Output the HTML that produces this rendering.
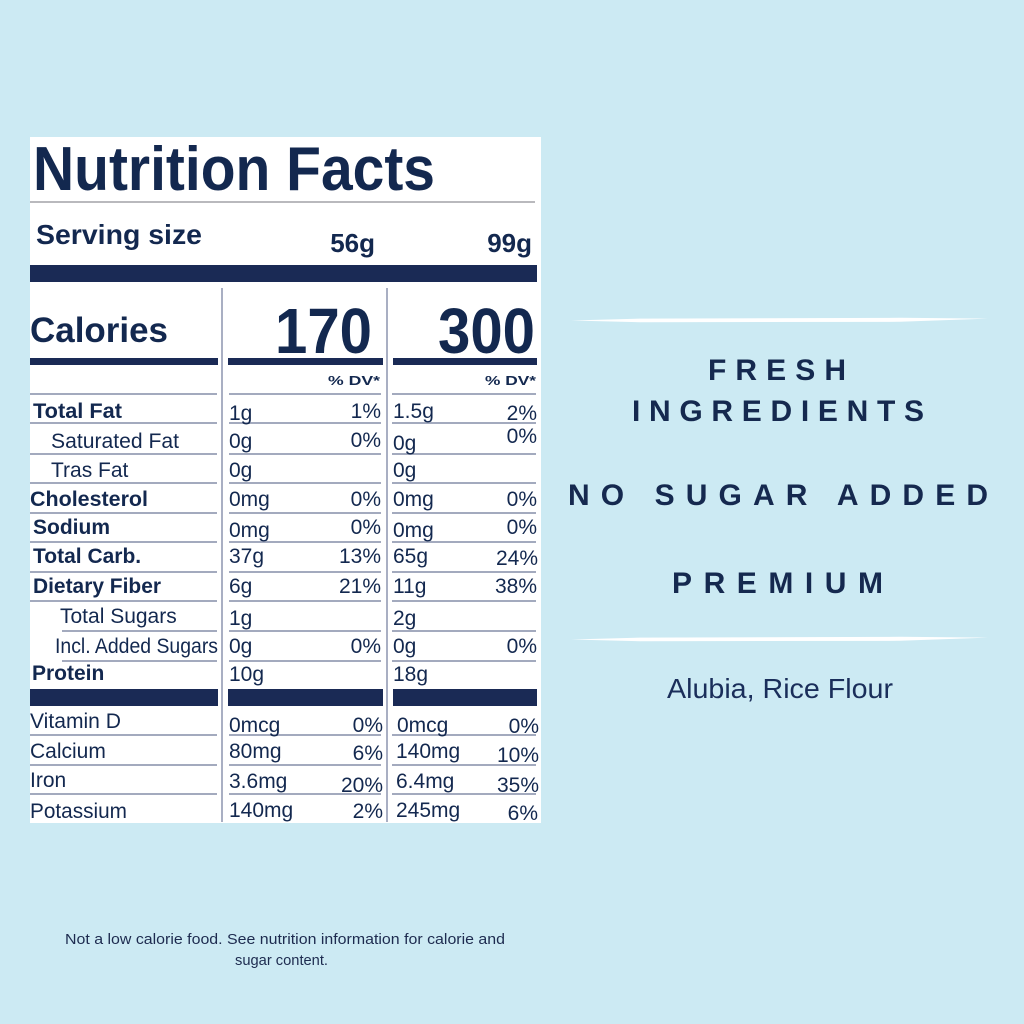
<!DOCTYPE html>
<html><head><meta charset="utf-8"><style>
html,body{margin:0;padding:0;background:#cceaf3;}
svg{display:block;}
.t{font-family:"Liberation Sans",Arial,sans-serif;fill:#13284f;}
.b{font-weight:bold;}
</style></head><body>
<svg width="1024" height="1024" viewBox="0 0 1024 1024" xmlns="http://www.w3.org/2000/svg">
<rect x="0" y="0" width="1024" height="1024" fill="#cceaf3"/>
<rect x="30" y="137" width="511" height="686" fill="#ffffff"/>

<text class="t b" x="33" y="190" font-size="62" textLength="402" lengthAdjust="spacingAndGlyphs">Nutrition Facts</text>
<line x1="30" y1="202" x2="535" y2="202" stroke="#b9b9bd" stroke-width="2"/>

<text class="t b" x="36" y="244" font-size="28" textLength="166" lengthAdjust="spacingAndGlyphs">Serving size</text>
<text class="t b" x="375" y="252" font-size="26" text-anchor="end">56g</text>
<text class="t b" x="532" y="252" font-size="26" text-anchor="end">99g</text>

<rect x="30" y="265" width="507" height="17" fill="#1a2a55"/>

<line x1="222" y1="288" x2="222" y2="822" stroke="#a9afc3" stroke-width="2"/>
<line x1="387" y1="288" x2="387" y2="822" stroke="#a9afc3" stroke-width="2"/>

<text class="t b" x="30" y="342" font-size="35" textLength="138" lengthAdjust="spacingAndGlyphs">Calories</text>
<text class="t b" x="275" y="353" font-size="64" textLength="97" lengthAdjust="spacingAndGlyphs">170</text>
<text class="t b" x="438" y="353" font-size="64" textLength="97" lengthAdjust="spacingAndGlyphs">300</text>
<rect x="30" y="358" width="188" height="7" fill="#1a2a55"/>
<rect x="228" y="358" width="155" height="7" fill="#1a2a55"/>
<rect x="393" y="358" width="144" height="7" fill="#1a2a55"/>

<text class="t b" x="328" y="385" font-size="12.5" textLength="52" lengthAdjust="spacingAndGlyphs">% DV*</text>
<text class="t b" x="485" y="385" font-size="12.5" textLength="51" lengthAdjust="spacingAndGlyphs">% DV*</text>

<g stroke="#a3aabe" stroke-width="2">
<line x1="30" y1="394" x2="217" y2="394"/><line x1="229" y1="394" x2="381" y2="394"/><line x1="392" y1="394" x2="536" y2="394"/>
<line x1="30" y1="423" x2="217" y2="423"/><line x1="229" y1="423" x2="381" y2="423"/><line x1="392" y1="423" x2="536" y2="423"/>
<line x1="30" y1="454" x2="217" y2="454"/><line x1="229" y1="454" x2="381" y2="454"/><line x1="392" y1="454" x2="536" y2="454"/>
<line x1="30" y1="483" x2="217" y2="483"/><line x1="229" y1="483" x2="381" y2="483"/><line x1="392" y1="483" x2="536" y2="483"/>
<line x1="30" y1="513" x2="217" y2="513"/><line x1="229" y1="513" x2="381" y2="513"/><line x1="392" y1="513" x2="536" y2="513"/>
<line x1="30" y1="542" x2="217" y2="542"/><line x1="229" y1="542" x2="381" y2="542"/><line x1="392" y1="542" x2="536" y2="542"/>
<line x1="30" y1="572" x2="217" y2="572"/><line x1="229" y1="572" x2="381" y2="572"/><line x1="392" y1="572" x2="536" y2="572"/>
<line x1="30" y1="601" x2="217" y2="601"/><line x1="229" y1="601" x2="381" y2="601"/><line x1="392" y1="601" x2="536" y2="601"/>
<line x1="62" y1="631" x2="217" y2="631"/><line x1="229" y1="631" x2="381" y2="631"/><line x1="392" y1="631" x2="536" y2="631"/>
<line x1="62" y1="661" x2="217" y2="661"/><line x1="229" y1="661" x2="381" y2="661"/><line x1="392" y1="661" x2="536" y2="661"/>
<line x1="30" y1="735" x2="217" y2="735"/><line x1="229" y1="735" x2="381" y2="735"/><line x1="392" y1="735" x2="536" y2="735"/>
<line x1="30" y1="765" x2="217" y2="765"/><line x1="229" y1="765" x2="381" y2="765"/><line x1="392" y1="765" x2="536" y2="765"/>
<line x1="30" y1="794" x2="217" y2="794"/><line x1="229" y1="794" x2="381" y2="794"/><line x1="392" y1="794" x2="536" y2="794"/>
</g>

<rect x="30" y="689" width="188" height="17" fill="#1a2a55"/>
<rect x="228" y="689" width="155" height="17" fill="#1a2a55"/>
<rect x="393" y="689" width="144" height="17" fill="#1a2a55"/>

<!-- labels -->
<g class="t" font-size="21">
<text class="t b" x="33" y="418" textLength="89" lengthAdjust="spacingAndGlyphs">Total Fat</text>
<text class="t" x="51" y="448" textLength="128" lengthAdjust="spacingAndGlyphs">Saturated Fat</text>
<text class="t" x="51" y="477">Tras Fat</text>
<text class="t b" x="30" y="506" textLength="118" lengthAdjust="spacingAndGlyphs">Cholesterol</text>
<text class="t b" x="33" y="534">Sodium</text>
<text class="t b" x="33" y="563">Total Carb.</text>
<text class="t b" x="33" y="593" textLength="128" lengthAdjust="spacingAndGlyphs">Dietary Fiber</text>
<text class="t" x="60" y="623">Total Sugars</text>
<text class="t" x="55" y="653" textLength="163" lengthAdjust="spacingAndGlyphs">Incl. Added Sugars</text>
<text class="t b" x="32" y="680">Protein</text>
<text class="t" x="30" y="728" textLength="91" lengthAdjust="spacingAndGlyphs">Vitamin D</text>
<text class="t" x="30" y="758">Calcium</text>
<text class="t" x="30" y="787">Iron</text>
<text class="t" x="30" y="818" textLength="97" lengthAdjust="spacingAndGlyphs">Potassium</text>
</g>

<!-- values -->
<g class="t" font-size="21">
<text x="229" y="420">1g</text><text x="381" y="418" text-anchor="end">1%</text>
<text x="393" y="418">1.5g</text><text x="537" y="420" text-anchor="end">2%</text>

<text x="229" y="448">0g</text><text x="381" y="447" text-anchor="end">0%</text>
<text x="393" y="450">0g</text><text x="537" y="443" text-anchor="end">0%</text>

<text x="229" y="477">0g</text>
<text x="393" y="477">0g</text>

<text x="229" y="506">0mg</text><text x="381" y="506" text-anchor="end">0%</text>
<text x="393" y="506">0mg</text><text x="537" y="506" text-anchor="end">0%</text>

<text x="229" y="537">0mg</text><text x="381" y="534" text-anchor="end">0%</text>
<text x="393" y="537">0mg</text><text x="537" y="534" text-anchor="end">0%</text>

<text x="229" y="563">37g</text><text x="381" y="563" text-anchor="end">13%</text>
<text x="393" y="563">65g</text><text x="538" y="565" text-anchor="end">24%</text>

<text x="229" y="593">6g</text><text x="381" y="593" text-anchor="end">21%</text>
<text x="393" y="593">11g</text><text x="537" y="593" text-anchor="end">38%</text>

<text x="229" y="625">1g</text>
<text x="393" y="625">2g</text>

<text x="229" y="653">0g</text><text x="381" y="653" text-anchor="end">0%</text>
<text x="393" y="653">0g</text><text x="537" y="653" text-anchor="end">0%</text>

<text x="229" y="681">10g</text>
<text x="393" y="681">18g</text>

<text x="229" y="732">0mcg</text><text x="383" y="732" text-anchor="end">0%</text>
<text x="397" y="732">0mcg</text><text x="539" y="733" text-anchor="end">0%</text>

<text x="229" y="758">80mg</text><text x="383" y="760" text-anchor="end">6%</text>
<text x="396" y="758">140mg</text><text x="539" y="762" text-anchor="end">10%</text>

<text x="229" y="788">3.6mg</text><text x="383" y="792" text-anchor="end">20%</text>
<text x="396" y="788">6.4mg</text><text x="539" y="792" text-anchor="end">35%</text>

<text x="229" y="817">140mg</text><text x="383" y="818" text-anchor="end">2%</text>
<text x="396" y="817">245mg</text><text x="538" y="820" text-anchor="end">6%</text>
</g>

<!-- right side -->
<path d="M571 320.5 L640 318.6 L900 317.8 L988 318.6 L900 321.8 L640 322.2 Z" fill="#ffffff"/>
<path d="M571 639.5 L640 637.6 L900 636.8 L988 637.6 L900 640.8 L640 641.2 Z" fill="#ffffff"/>

<g font-family="'Liberation Sans', Arial, sans-serif" font-weight="bold" font-size="30" fill="#15294f">
<text x="708" y="380" textLength="138" lengthAdjust="spacing">FRESH</text>
<text x="632" y="421" textLength="292" lengthAdjust="spacing">INGREDIENTS</text>
<text x="568" y="505" textLength="420" lengthAdjust="spacing">NO SUGAR ADDED</text>
<text x="672" y="593" textLength="211" lengthAdjust="spacing">PREMIUM</text>
</g>
<text x="667" y="698" font-family="'Liberation Sans', Arial, sans-serif" font-size="28" fill="#1a2e5a" textLength="226" lengthAdjust="spacingAndGlyphs">Alubia, Rice Flour</text>

<text x="65" y="944" font-family="'Liberation Sans', Arial, sans-serif" font-size="15" fill="#1d2b4f" textLength="440" lengthAdjust="spacingAndGlyphs">Not a low calorie food. See nutrition information for calorie and</text>
<text x="235" y="965" font-family="'Liberation Sans', Arial, sans-serif" font-size="15" fill="#1d2b4f" textLength="93" lengthAdjust="spacingAndGlyphs">sugar content.</text>
</svg>
</body></html>
